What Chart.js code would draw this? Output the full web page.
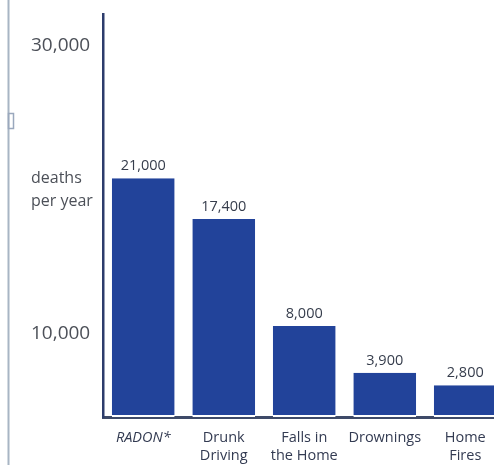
<!DOCTYPE html>
<html>
<head>
<meta charset="utf-8">
<script src="https://cdn.jsdelivr.net/npm/chart.js@4/dist/chart.umd.min.js"></script>
<style>
  html, body { margin: 0; padding: 0; background: #fff; }
  #wrap { position: relative; width: 494px; height: 465px; overflow: hidden; background: #fff; }
  #chart { position: absolute; left: 0; top: 0; }
</style>
</head>
<body>
<div id="wrap"><canvas id="chart" width="510" height="465"></canvas></div>
<script>
// Annual deaths by cause
const categories = [['RADON*'], ['Drunk', 'Driving'], ['Falls in', 'the Home'], ['Drownings'], ['Home', 'Fires']];
const deathsPerYear = [21000, 17400, 8000, 3900, 2800];
const axisTickValues = [10000, 20000, 30000];
const axisTitleLines = ['deaths', 'per year'];
const axisTitleTick = 20000;

const FONT = '"Open Sans", "Noto Sans", sans-serif';
const BAR_BLUE = '#22439a';

const fmt = v => v.toLocaleString('en-US');

// Prints each bar's value just above it
const valueLabels = {
  id: 'valueLabels',
  afterDatasetsDraw(chart) {
    const { ctx } = chart;
    const meta = chart.getDatasetMeta(0);
    ctx.save();
    ctx.font = '14.5px ' + FONT;
    ctx.fillStyle = '#363d4c';
    ctx.textAlign = 'center';
    ctx.textBaseline = 'alphabetic';
    meta.data.forEach((bar, i) => {
      ctx.fillText(fmt(deathsPerYear[i]), bar.x, bar.y - 8);
    });
    ctx.restore();
  }
};

// Thin page rule down the left edge
const pageRule = {
  id: 'pageRule',
  beforeDraw(chart) {
    const { ctx } = chart;
    ctx.save();
    ctx.strokeStyle = '#a8b5c4';
    ctx.lineWidth = 2;
    ctx.beginPath();
    ctx.moveTo(8.5, 0);
    ctx.lineTo(8.5, chart.height);
    ctx.stroke();
    ctx.lineWidth = 1.5;
    ctx.strokeStyle = '#9aa8bd';
    ctx.strokeRect(8.5, 113.5, 5, 15);
    ctx.restore();
  }
};

new Chart(document.getElementById('chart'), {
  type: 'bar',
  data: {
    labels: categories,
    datasets: [{
      data: deathsPerYear,
      yAxisID: 'bars',
      backgroundColor: BAR_BLUE,
      borderColor: '#ffffff',
      borderWidth: { top: 0, left: 0, right: 0, bottom: 2 },
      borderSkipped: false,
      categoryPercentage: 1,
      barPercentage: 0.78
    }]
  },
  options: {
    responsive: false,
    animation: false,
    devicePixelRatio: 1,
    layout: { padding: { left: 31, top: 10, right: 4.5, bottom: 0 } },
    plugins: {
      legend: { display: false },
      tooltip: { enabled: false }
    },
    scales: {
      x: {
        grid: { display: false, drawTicks: false },
        border: { display: true, color: '#3e4a68', width: 3 },
        ticks: {
          padding: 12,
          color: '#333b52',
          maxRotation: 0,
          autoSkip: false,
          font: ctx => ({ family: FONT, size: 14.5, lineHeight: 1.25, style: ctx.index === 0 ? 'italic' : 'normal' })
        },
        afterFit: s => { s.height = 48; }
      },
      y: {
        position: 'left',
        min: 4227,
        max: 32199,
        grid: { display: false, drawTicks: false },
        border: { display: true, color: '#2c3c6c', width: 2.5 },
        afterBuildTicks: s => { s.ticks = axisTickValues.map(v => ({ value: v })); },
        afterFit: s => { s.width = 72; },
        ticks: {
          crossAlign: 'far',
          color: '#4c5058',
          font: ctx => (ctx.tick && ctx.tick.value === axisTitleTick)
            ? { family: FONT, size: 16, lineHeight: 1.4 }
            : { family: FONT, size: 19 },
          callback: v => v === axisTitleTick ? axisTitleLines : fmt(v)
        }
      },
      bars: {
        display: false,
        position: 'left',
        min: 0,
        max: 35400
      }
    }
  },
  plugins: [pageRule, valueLabels]
});
</script>
</body>
</html>
